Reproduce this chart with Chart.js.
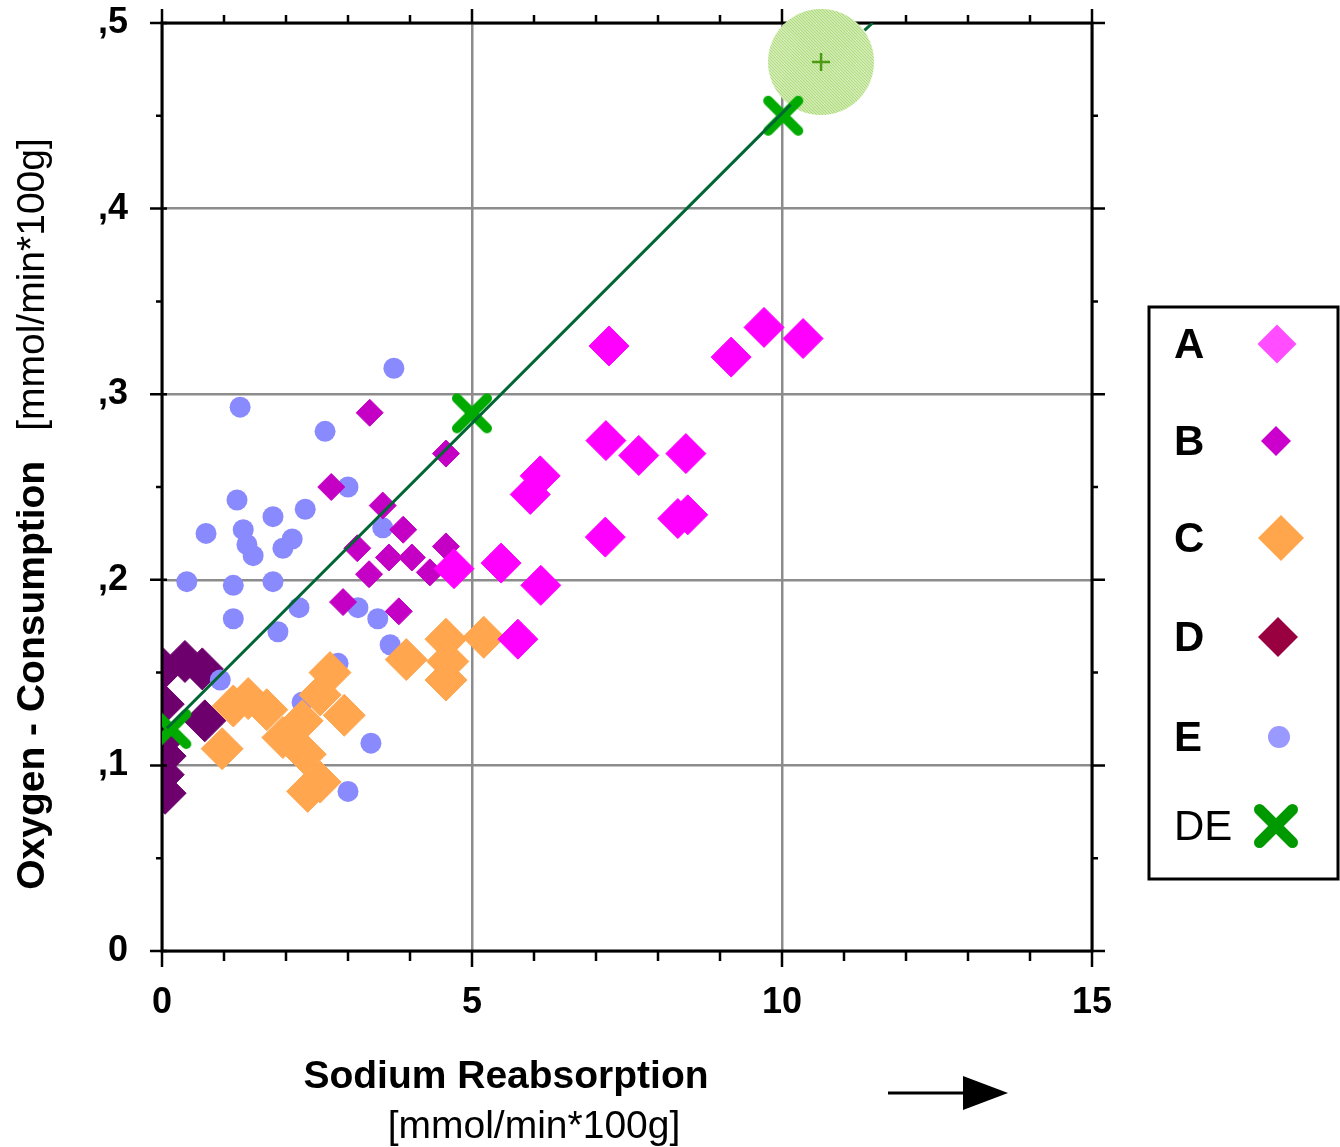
<!DOCTYPE html>
<html><head><meta charset="utf-8">
<script src="https://cdn.jsdelivr.net/npm/chart.js@4.4.1/dist/chart.umd.min.js"></script>
<style>html,body{margin:0;padding:0;background:#fff}canvas{display:block}</style>
</head><body>
<canvas id="c" width="1340" height="1147"></canvas>
<script>
// ---------------- data ----------------
const xTickLabels = ['0', '5', '10', '15'];
const yTickLabels = ['0', ',1', ',2', ',3', ',4', ',5'];
const legendLabels = ['A', 'B', 'C', 'D', 'E', 'DE'];

const aX = [7.21, 9.18, 9.71, 10.34, 7.16, 7.69, 8.45, 6.10, 5.94, 8.32, 8.48, 7.15, 4.71, 5.47, 6.11, 5.74];
const aY = [0.326, 0.320, 0.336, 0.330, 0.275, 0.267, 0.268, 0.256, 0.246, 0.233, 0.235, 0.223, 0.206, 0.209, 0.197, 0.168];

const bX = [3.35, 4.58, 2.73, 3.56, 3.89, 3.15, 3.66, 4.03, 4.58, 3.34, 4.32, 2.92, 3.82];
const bY = [0.290, 0.268, 0.250, 0.240, 0.227, 0.217, 0.212, 0.212, 0.218, 0.203, 0.204, 0.188, 0.183];

const cX = [1.15, 1.39, 1.69, 2.26, 1.95, 2.31, 2.35, 2.55, 2.71, 2.55, 2.94, 0.97, 3.94, 4.58, 4.61, 4.58, 5.19];
const cY = [0.132, 0.136, 0.130, 0.124, 0.115, 0.106, 0.086, 0.091, 0.150, 0.138, 0.127, 0.109, 0.157, 0.168, 0.156, 0.146, 0.169];

const dX = [0.37, 0.65, 0.02, 0.69, 0.02, 0.02, 0.05, 0.05, 0.02];
const dY = [0.156, 0.152, 0.152, 0.124, 0.133, 0.114, 0.105, 0.085, 0.095];

const eX = [3.74, 1.26, 2.63, 3.00, 1.21, 1.79, 2.31, 0.71, 1.31, 1.37, 1.47, 1.95, 2.10, 3.56, 0.40, 1.15, 1.79, 1.15, 2.21, 1.87, 3.16, 3.48, 3.68, 0.94, 2.84, 3.37, 3.00, 2.26];
const eY = [0.314, 0.293, 0.280, 0.250, 0.243, 0.234, 0.238, 0.225, 0.227, 0.219, 0.213, 0.217, 0.222, 0.228, 0.199, 0.197, 0.199, 0.179, 0.185, 0.172, 0.185, 0.179, 0.165, 0.146, 0.155, 0.112, 0.086, 0.134];

const deX = [0.15, 5.00, 10.02];
const deY = [0.1196, 0.2897, 0.450];

// regression line (broken where it passes under the circle)
const lineX = [0.08, 10.14, null, 11.33, 11.46];
const lineY = [0.120, 0.456, null, 0.496, 0.500];

const circleX = [10.63];
const circleY = [0.479];

// ---------------- helpers ----------------
const pts = (xs, ys) => xs.map((v, i) => ({ x: v, y: ys[i] }));

function makeHatchCircle(r) {
  const c = document.createElement('canvas');
  const s = 2 * r + 2;
  c.width = c.height = s;
  const g = c.getContext('2d');
  g.beginPath(); g.arc(s / 2, s / 2, r, 0, Math.PI * 2); g.clip();
  g.fillStyle = '#e6f6d2'; g.fillRect(0, 0, s, s);
  g.strokeStyle = '#a8d874'; g.lineWidth = 1.2;
  for (let k = -s; k < 2 * s; k += 3) { g.beginPath(); g.moveTo(k, 0); g.lineTo(k + s, s); g.stroke(); }
  return c;
}
function makeX(size, lw, color) {
  const c = document.createElement('canvas');
  c.width = c.height = size;
  const g = c.getContext('2d');
  g.lineCap = 'round'; g.lineWidth = lw; g.strokeStyle = color;
  const p = lw / 2 + 1;
  g.beginPath(); g.moveTo(p, p); g.lineTo(size - p, size - p);
  g.moveTo(size - p, p); g.lineTo(p, size - p); g.stroke();
  return c;
}
const hatch = makeHatchCircle(53);
const xMark = makeX(42, 10, '#00aa00');
const xLegend = makeX(46, 11, '#009900');

const FONT = '"Liberation Sans", Arial, Helvetica, sans-serif';

function drawAxes(chart) {
  const { ctx, chartArea: a, scales: { x, y } } = chart;
  ctx.save();
  ctx.strokeStyle = '#000';
  ctx.lineWidth = 2.5;
  ctx.beginPath();
  for (let v = 0; v <= 15; v++) {
    const px = x.getPixelForValue(v), major = v % 5 === 0;
    ctx.moveTo(px, a.bottom); ctx.lineTo(px, a.bottom + (major ? 16 : 10));
    ctx.moveTo(px, a.top); ctx.lineTo(px, a.top - (major ? 14 : 8));
  }
  for (let i = 0; i <= 10; i++) {
    const py = y.getPixelForValue(i * 0.05), major = i % 2 === 0;
    ctx.moveTo(a.left - (major ? 12 : 6), py); ctx.lineTo(a.left + (major ? 5 : 0), py);
    ctx.moveTo(a.right, py); ctx.lineTo(a.right + (major ? 13 : 6), py);
  }
  ctx.stroke();
  ctx.lineWidth = 3;
  ctx.strokeRect(a.left, a.top, a.right - a.left, a.bottom - a.top);
  ctx.restore();
}

function diamond(ctx, cx, cy, r, color) {
  ctx.beginPath();
  ctx.moveTo(cx - r, cy); ctx.lineTo(cx, cy - r); ctx.lineTo(cx + r, cy); ctx.lineTo(cx, cy + r);
  ctx.closePath(); ctx.fillStyle = color; ctx.fill();
}

const deco = {
  id: 'deco',
  afterDatasetDraw(chart, args) {
    if (chart.data.datasets[args.index].axesAfter) drawAxes(chart);
  },
  afterDraw(chart) {
    const ctx = chart.ctx;
    ctx.save();
    ctx.fillStyle = '#000';
    // y axis title
    ctx.save();
    ctx.translate(44, 514);
    ctx.rotate(-Math.PI / 2);
    const t1 = 'Oxygen - Consumption', t2 = '[mmol/min*100g]';
    ctx.font = 'bold 39px ' + FONT; const w1 = ctx.measureText(t1).width;
    ctx.font = '39px ' + FONT; const w2 = ctx.measureText(t2).width;
    const gap = 30, total = w1 + gap + w2;
    ctx.textBaseline = 'alphabetic'; ctx.textAlign = 'left';
    ctx.font = 'bold 39px ' + FONT; ctx.fillText(t1, -total / 2, 0);
    ctx.font = '39px ' + FONT; ctx.fillText(t2, -total / 2 + w1 + gap, 0);
    ctx.restore();
    // x axis title
    ctx.textAlign = 'center'; ctx.textBaseline = 'alphabetic';
    ctx.font = 'bold 39px ' + FONT; ctx.fillText('Sodium Reabsorption', 506, 1088);
    ctx.font = '39px ' + FONT; ctx.fillText('[mmol/min*100g]', 534, 1138);
    // arrow
    ctx.strokeStyle = '#000'; ctx.lineWidth = 3;
    ctx.beginPath(); ctx.moveTo(888, 1093); ctx.lineTo(966, 1093); ctx.stroke();
    ctx.beginPath(); ctx.moveTo(963, 1076); ctx.lineTo(1008, 1093); ctx.lineTo(963, 1110); ctx.closePath(); ctx.fill();
    // legend
    ctx.lineWidth = 3;
    ctx.strokeRect(1149, 307, 1338 - 1149, 879 - 307);
    const ys = [344, 441, 538, 637, 737, 826];
    ctx.textAlign = 'left'; ctx.textBaseline = 'middle';
    legendLabels.forEach((lab, i) => {
      ctx.font = (lab === 'DE' ? '' : 'bold ') + '42px ' + FONT;
      ctx.fillStyle = '#000';
      ctx.fillText(lab, 1174, ys[i] + 2);
    });
    diamond(ctx, 1277, ys[0], 19.5, '#ff4dff');
    diamond(ctx, 1276, ys[1], 15, '#cc00cc');
    diamond(ctx, 1281, ys[2], 23, '#ffa64d');
    diamond(ctx, 1278, ys[3], 20, '#990040');
    ctx.beginPath(); ctx.arc(1279, ys[4], 11, 0, Math.PI * 2); ctx.fillStyle = '#9999ff'; ctx.fill();
    ctx.drawImage(xLegend, 1276 - 23, ys[5] - 23);
    ctx.restore();
  }
};

const scatterBase = { showLine: false, clip: 0 };
const noPad = (s) => { s.paddingTop = 0; s.paddingBottom = 0; s.paddingLeft = 0; s.paddingRight = 0; };

new Chart(document.getElementById('c'), {
  type: 'scatter',
  data: {
    datasets: [
      { label: 'line', data: pts(lineX, lineY), showLine: true, borderColor: '#006633', borderWidth: 3,
        pointRadius: 0, fill: false, spanGaps: false, order: 0, clip: 0 },
      { label: 'DE', data: pts(deX, deY), ...scatterBase, pointStyle: xMark, pointRadius: 21, order: 1 },
      { label: 'plus', data: pts(circleX, circleY), showLine: false, clip: false, pointStyle: 'cross',
        pointRadius: 9, borderColor: '#4e9a14', borderWidth: 2.5, order: 2 },
      { label: 'circle', data: pts(circleX, circleY), showLine: false, clip: false, pointStyle: hatch,
        pointRadius: 53, order: 3 },
      { label: 'A', data: pts(aX, aY), ...scatterBase, pointStyle: 'rectRot', pointRadius: 20,
        backgroundColor: '#ff00ff', borderColor: '#ff00ff', borderWidth: 1, order: 4, axesAfter: true },
      { label: 'C', data: pts(cX, cY), ...scatterBase, pointStyle: 'rectRot', pointRadius: 21,
        backgroundColor: '#ffa64f', borderColor: '#ffa64f', borderWidth: 1, order: 5 },
      { label: 'B', data: pts(bX, bY), ...scatterBase, pointStyle: 'rectRot', pointRadius: 13.5,
        backgroundColor: '#c400c4', borderColor: '#c400c4', borderWidth: 1, order: 6 },
      { label: 'E', data: pts(eX, eY), ...scatterBase, pointStyle: 'circle', pointRadius: 10.5,
        backgroundColor: '#8a8aff', borderColor: '#8a8aff', borderWidth: 0, order: 7 },
      { label: 'D', data: pts(dX, dY), ...scatterBase, pointStyle: 'rectRot', pointRadius: 21,
        backgroundColor: '#6e006e', borderColor: '#6e006e', borderWidth: 1, order: 8 }
    ]
  },
  options: {
    responsive: false,
    animation: false,
    devicePixelRatio: 1,
    layout: { autoPadding: false, padding: { left: 0, right: 248, top: 23, bottom: 0 } },
    plugins: { legend: { display: false }, tooltip: { enabled: false } },
    scales: {
      x: {
        type: 'linear', min: 0, max: 15,
        ticks: { stepSize: 5, color: '#000', padding: 30, maxRotation: 0,
          font: { family: FONT, size: 36, weight: 'bold' },
          callback: (v) => xTickLabels[Math.round(v / 5)] },
        grid: { color: '#8c8c8c', lineWidth: 2.5, drawTicks: false },
        border: { display: false },
        afterFit(s) { s.height = 196; noPad(s); }
      },
      y: {
        type: 'linear', min: 0, max: 0.5,
        ticks: { stepSize: 0.1, color: '#000', padding: 34,
          font: { family: FONT, size: 36, weight: 'bold' },
          callback: (v) => yTickLabels[Math.round(v * 10)] },
        grid: { color: '#8c8c8c', lineWidth: 2.5, drawTicks: false },
        border: { display: false },
        afterFit(s) { s.width = 162; noPad(s); }
      }
    }
  },
  plugins: [deco]
});
</script>
</body></html>
